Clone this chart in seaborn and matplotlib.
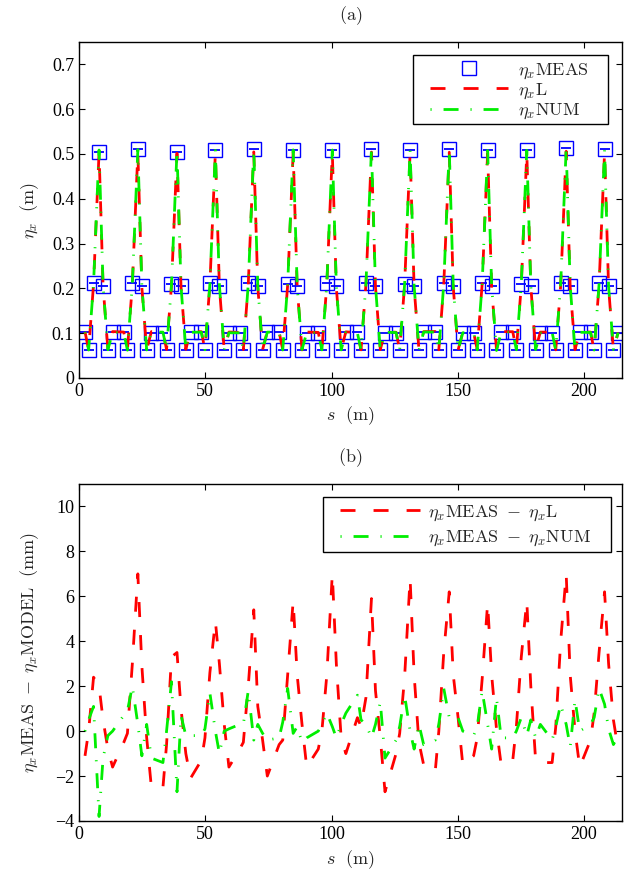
#!/usr/bin/env python3
# coding: utf-8
# Dispersion measurement vs. model along the ring, (a) eta_x and (b) residuals
import numpy as np
import pandas as pd
import matplotlib
matplotlib.use("Agg")
import matplotlib.pyplot as plt
from matplotlib.lines import Line2D
from matplotlib.patches import Rectangle
import seaborn as sns

# **--- BPM positions s (m), one row per cell (7 BPMs per cell)
s_bpm = [
    2.38, 3.81, 5.76, 7.94, 9.53, 11.44, 13.30,
    17.74, 19.17, 21.12, 23.30, 24.89, 26.80, 28.66,
    33.24, 34.67, 36.62, 38.80, 40.39, 42.30, 44.16,
    48.44, 49.87, 51.82, 54.00, 55.59, 57.50, 59.36,
    63.64, 65.07, 67.02, 69.20, 70.79, 72.70, 74.56,
    79.24, 80.67, 82.62, 84.80, 86.39, 88.30, 90.16,
    94.74, 96.17, 98.12, 100.30, 101.89, 103.80, 105.66,
    110.24, 111.67, 113.62, 115.80, 117.39, 119.30, 121.16,
    125.54, 126.97, 128.92, 131.10, 132.69, 134.60, 136.46,
    141.04, 142.47, 144.42, 146.60, 148.19, 150.10, 151.96,
    156.24, 157.67, 159.62, 161.80, 163.39, 165.30, 167.16,
    171.74, 173.17, 175.12, 177.30, 178.89, 180.80, 182.66,
    187.34, 188.77, 190.72, 192.90, 194.49, 196.40, 198.26,
    202.54, 203.97, 205.92, 208.10, 209.69, 211.60, 213.46,
]

# **--- measured dispersion eta_x (m)
eta_meas = [
    0.102, 0.063, 0.211, 0.505, 0.206, 0.063, 0.102,
    0.102, 0.063, 0.211, 0.510, 0.205, 0.063, 0.101,
    0.101, 0.063, 0.210, 0.505, 0.205, 0.063, 0.102,
    0.102, 0.063, 0.211, 0.508, 0.206, 0.063, 0.101,
    0.101, 0.063, 0.211, 0.510, 0.205, 0.063, 0.102,
    0.102, 0.063, 0.210, 0.509, 0.205, 0.063, 0.101,
    0.101, 0.063, 0.211, 0.509, 0.205, 0.063, 0.102,
    0.102, 0.063, 0.211, 0.510, 0.206, 0.063, 0.101,
    0.101, 0.063, 0.210, 0.509, 0.205, 0.063, 0.102,
    0.102, 0.063, 0.211, 0.510, 0.205, 0.063, 0.101,
    0.101, 0.063, 0.211, 0.508, 0.205, 0.063, 0.102,
    0.102, 0.063, 0.210, 0.508, 0.206, 0.063, 0.101,
    0.101, 0.063, 0.211, 0.513, 0.205, 0.063, 0.102,
    0.102, 0.063, 0.211, 0.510, 0.205, 0.063, 0.101,
]

# **--- residuals (mm): MEAS - L
diff_L = [
    -1.1, 0.0, 2.4, 2.0, 0.5, -0.8, -1.6,
    -0.5, -0.1, 3.0, 7.0, 2.9, -0.3, -2.5,
    -2.5, -0.6, 3.3, 3.5, 1.0, -1.0, -2.1,
    -1.3, -0.3, 2.6, 4.9, 3.0, 0.3, -1.6,
    -0.8, -0.5, 2.0, 5.4, 1.1, -0.4, -2.0,
    -0.6, -0.4, 2.5, 5.8, 2.5, 0.3, -1.6,
    -0.8, 0.0, 2.5, 7.0, 3.0, -0.3, -1.0,
    0.6, 0.2, 1.5, 5.9, 1.8, -0.3, -2.7,
    -1.0, -0.1, 2.4, 6.8, 2.5, -0.5, -1.5,
    -1.8, 0.0, 3.5, 6.2, 2.5, 0.6, -1.5,
    -1.1, -0.3, 2.3, 5.7, 2.5, 0.1, -1.5,
    -1.3, 0.2, 3.3, 5.8, 2.0, -1.3, -1.4,
    -1.4, 0.2, 4.0, 7.0, 2.5, 0.0, -1.6,
    -0.4, 0.8, 3.5, 6.2, 3.0, 0.5, -0.8,
]

# **--- residuals (mm): MEAS - NUM
diff_NUM = [
    0.0, 0.5, 1.1, -3.8, -1.2, -0.2, 0.0,
    0.7, 0.9, 2.0, 0.3, -1.1, 0.3, -1.2,
    -1.4, 0.0, 2.2, -2.7, 0.7, -0.2, -0.2,
    -0.2, 0.1, 1.7, 0.0, -1.0, 0.0, 0.1,
    0.3, 0.3, 1.8, -0.4, 0.3, -0.1, -0.4,
    -0.3, 0.4, 1.9, -0.1, 0.2, -0.5, -0.3,
    0.0, 0.3, 0.8, 0.2, -0.3, 0.3, 0.8,
    1.6, 0.5, 0.3, -0.3, 0.3, 1.3, -1.2,
    -0.4, 0.2, 1.6, 0.0, -0.8, 0.3, -0.6,
    -0.4, 0.3, 1.9, 0.6, 0.5, 0.6, 0.0,
    -0.2, 0.2, 1.8, 0.3, -0.8, 1.5, -0.3,
    -0.3, 0.0, 0.6, -0.2, 0.5, -0.3, 0.3,
    -0.4, 0.2, 1.2, 0.3, -0.7, 1.4, 0.0,
    0.3, 0.6, 1.9, 1.2, 0.1, -0.6, -0.2,
]

df = pd.DataFrame({"s": s_bpm, "meas": eta_meas, "dL": diff_L, "dNUM": diff_NUM})
# model values follow from measurement minus residual
df["L"] = df["meas"] - df["dL"] / 1000.0
df["NUM"] = df["meas"] - df["dNUM"] / 1000.0

# **--- style
sns.set_theme(style="ticks")
plt.rcParams.update({
    "font.family": ["Liberation Serif", "DejaVu Serif"],
    "mathtext.fontset": "cm",
    "font.size": 13,
    "axes.linewidth": 1.0,
    "axes.edgecolor": "black",
    "xtick.direction": "in",
    "ytick.direction": "in",
    "xtick.top": True,
    "ytick.right": True,
    "xtick.major.size": 4,
    "ytick.major.size": 4,
    "xtick.major.width": 0.8,
    "ytick.major.width": 0.8,
    "xtick.color": "black",
    "ytick.color": "black",
    "xtick.labelsize": 13,
    "ytick.labelsize": 13,
})

RED = "#ff0000"
GREEN = "#00ee00"
BLUE = "#0000ff"
dash_L = (0, (5.4, 6.5))
dash_NUM = (0, (0.4, 4.3, 5.4, 4.3))

fig = plt.figure(figsize=(6.24, 8.76), dpi=100)
ax1 = fig.add_axes([0.1266, 0.5685, 0.8702, 0.3836])
ax2 = fig.add_axes([0.1266, 0.0628, 0.8702, 0.3847])

# **--- (a) dispersion
ax1.plot(df["s"], df["meas"], ls="none", marker="s", ms=9.8, mfc="none",
         mec=BLUE, mew=1.0, zorder=2)
ax1.plot(df["s"], df["meas"], ls="none", marker="_", ms=7, mec=BLUE,
         mew=1.3, zorder=2)
sns.lineplot(data=df, x="s", y="L", ax=ax1, color=RED, lw=2,
             linestyle=dash_L, estimator=None, sort=False, zorder=3)
sns.lineplot(data=df, x="s", y="NUM", ax=ax1, color=GREEN, lw=2,
             linestyle=dash_NUM, estimator=None, sort=False, zorder=4)

ax1.set_xlim(0, 215)
ax1.set_ylim(0, 0.75)
ax1.set_xticks([0, 50, 100, 150, 200])
ax1.set_yticks([0, 0.1, 0.2, 0.3, 0.4, 0.5, 0.6, 0.7])
ax1.set_yticklabels(["0", "0.1", "0.2", "0.3", "0.4", "0.5", "0.6", "0.7"])
ax1.set_xlabel(r"$s\ \ \mathrm{(m)}$", fontsize=13, labelpad=3)
ax1.set_ylabel(r"$\eta_x\ \ \mathrm{(m)}$", fontsize=13, labelpad=8)
ax1.set_title(r"$\mathrm{(a)}$", fontsize=13, pad=16)

# legend box drawn by hand, legend entries without frame on top of it
ax1.add_patch(Rectangle((0.615, 0.756), 0.359, 0.205, transform=ax1.transAxes,
                        fc="white", ec="black", lw=1.0, zorder=6))
h1 = [
    Line2D([], [], ls="none", marker="s", ms=9.8, mfc="none", mec=BLUE, mew=1.0),
    Line2D([], [], color=RED, lw=2, ls=dash_L),
    Line2D([], [], color=GREEN, lw=2, ls=dash_NUM),
]
leg1 = ax1.legend(h1, [r"$\eta_x\mathrm{MEAS}$", r"$\eta_x\mathrm{L}$",
                       r"$\eta_x\mathrm{NUM}$"],
                  loc="upper left", bbox_to_anchor=(0.6464, 0.943),
                  fontsize=13, frameon=False, handlelength=4.3,
                  handletextpad=0.55, labelspacing=0.05, borderpad=0.0,
                  borderaxespad=0.0)
leg1.set_zorder(7)

# **--- (b) residuals
sns.lineplot(data=df, x="s", y="dL", ax=ax2, color=RED, lw=2,
             linestyle=dash_L, estimator=None, sort=False, zorder=3)
sns.lineplot(data=df, x="s", y="dNUM", ax=ax2, color=GREEN, lw=2,
             linestyle=dash_NUM, estimator=None, sort=False, zorder=4)

ax2.set_xlim(0, 215)
ax2.set_ylim(-4, 11)
ax2.set_xticks([0, 50, 100, 150, 200])
ax2.set_yticks([-4, -2, 0, 2, 4, 6, 8, 10])
ax2.set_xlabel(r"$s\ \ \mathrm{(m)}$", fontsize=13, labelpad=4)
ax2.set_ylabel(r"$\eta_x\mathrm{MEAS}\ -\ \eta_x\mathrm{MODEL}\ \ \mathrm{(mm)}$",
               fontsize=13, labelpad=10)
ax2.set_title(r"$\mathrm{(b)}$", fontsize=13, pad=16)

ax2.add_patch(Rectangle((0.4494, 0.7982), 0.5303, 0.1632, transform=ax2.transAxes,
                        fc="white", ec="black", lw=1.0, zorder=6))
h2 = [
    Line2D([], [], color=RED, lw=2, ls=dash_L),
    Line2D([], [], color=GREEN, lw=2, ls=dash_NUM),
]
leg2 = ax2.legend(h2, [r"$\eta_x\mathrm{MEAS}\ -\ \eta_x\mathrm{L}$",
                       r"$\eta_x\mathrm{MEAS}\ -\ \eta_x\mathrm{NUM}$"],
                  loc="upper left", bbox_to_anchor=(0.4807, 0.943),
                  fontsize=13, frameon=False, handlelength=4.43,
                  handletextpad=0.45, labelspacing=0.35, borderpad=0.0,
                  borderaxespad=0.0)
leg2.set_zorder(7)

for ax in (ax1, ax2):
    for sp in ax.spines.values():
        sp.set_visible(True)
        sp.set_color("black")

fig.savefig("out.png", dpi=100)
